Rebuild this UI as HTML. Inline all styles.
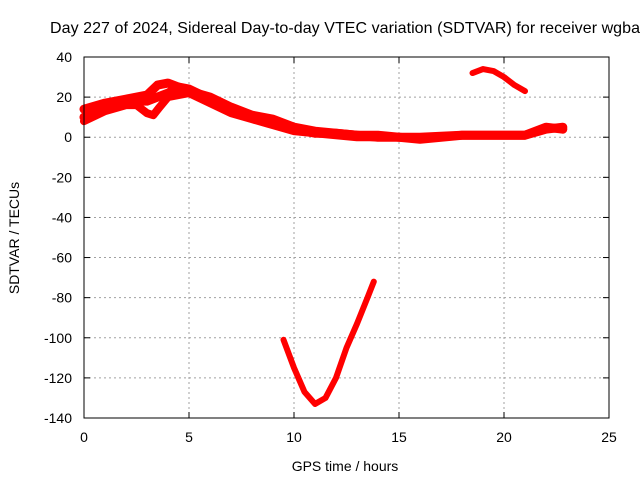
<!DOCTYPE html>
<html><head><meta charset="utf-8"><style>
body{margin:0;background:#fff;}
svg{display:block;font-family:"Liberation Sans",sans-serif;font-size:14px;}
</style></head><body>
<svg id="chart" width="640" height="480">
<text x="50" y="33" font-size="16" textLength="590">Day 227 of 2024, Sidereal Day-to-day VTEC variation (SDTVAR) for receiver wgba</text>
<g id="grid"></g><g id="marks"></g><g id="axes"></g>
<text x="345" y="471" text-anchor="middle">GPS time / hours</text>
<text transform="translate(19,238) rotate(-90)" text-anchor="middle">SDTVAR / TECUs</text>
</svg>
<script>
const xTicks=[0,5,10,15,20,25];
const yTicks=[40,20,0,-20,-40,-60,-80,-100,-120,-140];
const track1=[[0,10],[1,16],[2,18],[3,18],[4,22],[4.5,25],[5,24],[6,19],[7,14],[8,10],[9,8],[10,4],[11,2],[12,2],[13,1],[14,0],[15,0],[16,-1],[17,0],[18,1],[19,1],[20,1],[21,1],[22,4],[22.8,5]];
const track2=[[0,14],[1,17],[2,19],[3,21],[3.5,26],[4,27],[5,23],[6,20],[7,15],[8,11],[9,9],[10,5],[11,3],[12,2],[13,1],[14,1],[15,0],[16,0],[17,0.5],[18,1],[20,1],[21,1],[22,5],[22.8,4]];
const track3=[[0,8],[1,13],[2,16],[2.5,16],[3,12],[3.3,11],[3.6,15],[4,20],[5,22],[6,17],[7,12],[8,9],[9,6],[10,3],[11,2],[12,1],[13,0],[14,0]];
const track4=[[18.5,32],[19,34],[19.5,33],[20,30],[20.5,26],[21,23]];
const track5=[[9.5,-101],[10,-115],[10.5,-127],[11,-133],[11.5,-130],[12,-120],[12.5,-105],[13,-93],[13.5,-80],[13.8,-72]];
const X0=84,X1=609,Y0=57,Y1=418;
const sx=v=>X0+(v-0)/(25-0)*(X1-X0);
const sy=v=>Y0+(40-v)/(40+140)*(Y1-Y0);
const NS="http://www.w3.org/2000/svg";
const grid=document.getElementById('grid'),axes=document.getElementById('axes'),marks=document.getElementById('marks');
function mk(tag,attrs,parent){const e=document.createElementNS(NS,tag);for(const k in attrs)e.setAttribute(k,attrs[k]);parent.appendChild(e);return e;}
xTicks.forEach(t=>{
 if(t>0&&t<25){const l=mk('line',{x1:sx(t),x2:sx(t),y1:Y0,y2:Y1,stroke:'#a0a0a0','stroke-dasharray':'2,3'},grid);
 
 }
 const tx=mk('text',{x:sx(t),y:Y1+24,'text-anchor':'middle'},axes);tx.textContent=t;
 
 
 mk('line',{x1:sx(t),x2:sx(t),y1:Y1,y2:Y1-6,stroke:'#000'},axes);
 mk('line',{x1:sx(t),x2:sx(t),y1:Y0,y2:Y0+6,stroke:'#000'},axes);
});
yTicks.forEach(t=>{
 if(t<40&&t>-140){const l=mk('line',{x1:X0,x2:X1,y1:sy(t),y2:sy(t),stroke:'#a0a0a0','stroke-dasharray':'2,3'},grid);
 
 }
 const tx=mk('text',{x:X0-12,y:sy(t)+5,'text-anchor':'end'},axes);tx.textContent=t;
 
 
 mk('line',{x1:X0,x2:X0+6,y1:sy(t),y2:sy(t),stroke:'#000'},axes);
 mk('line',{x1:X1,x2:X1-6,y1:sy(t),y2:sy(t),stroke:'#000'},axes);
});
const frame=mk('rect',{x:X0,y:Y0,width:X1-X0,height:Y1-Y0,fill:'none',stroke:'#000'},axes);


[[track1,'track-1',9],[track2,'track-2',9],[track3,'track-3',8],[track4,'track-4',6],[track5,'track-5',6]].forEach(([d,n,w])=>{
 const p=mk('polyline',{points:d.map(q=>sx(q[0])+','+sy(q[1])).join(' '),fill:'none',stroke:'#ff0000','stroke-width':w,'stroke-linejoin':'round','stroke-linecap':'round'},marks);
 
 
});
</script>
</body></html>
